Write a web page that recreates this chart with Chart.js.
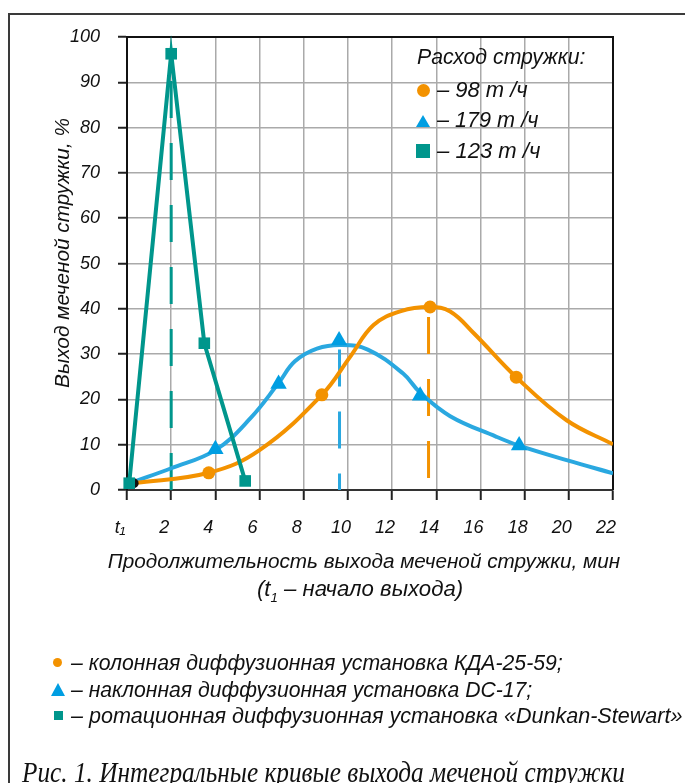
<!DOCTYPE html>
<html lang="ru">
<head>
<meta charset="utf-8">
<script src="https://cdn.jsdelivr.net/npm/chart.js@4/dist/chart.umd.min.js"></script>
<style>
  body { margin: 0; background: #fff; }
  #page { position: relative; width: 685px; height: 783px; overflow: hidden; background: #fff; }
  #frame { position: absolute; left: 8px; top: 13px; width: 700px; height: 800px;
           border-left: 2px solid #3a3a3a; border-top: 2px solid #3a3a3a; }
  #chart { position: absolute; left: 0; top: 0; }
  .t { position: absolute; white-space: nowrap; font-family: 'Liberation Sans', Arial, sans-serif;
       font-style: italic; color: #111; line-height: 1; }
  .mark { position: absolute; }
</style>
</head>
<body>
<div id="page">
  <div id="frame"></div>
  <canvas id="chart" width="685" height="783"></canvas>

  <!-- axis titles -->
  <div class="t" data-w="270" style="left:62px; top:253px; font-size:21px; transform:translate(-50%,-50%) rotate(-90deg);">Выход меченой стружки, %</div>
  <div class="t" data-w="512" style="left:364px; top:561px; font-size:21px; transform:translate(-50%,-50%);">Продолжительность выхода меченой стружки, мин</div>
  <div class="t" data-w="206" style="left:360px; top:591px; font-size:21px; transform:translate(-50%,-50%);">(t<sub style="font-size:0.6em;">1</sub> – начало выхода)</div>

  <!-- legend inside the plot -->
  <div class="t" data-w="168" style="left:417px; top:58px; font-size:21px; transform:translateY(-50%);">Расход стружки:</div>
  <div class="mark" style="left:417px; top:84px; width:13px; height:13px; border-radius:50%; background:#F39200;"></div>
  <div class="t" data-w="91" style="left:437px; top:90px; font-size:21px; transform:translateY(-50%);">– 98 т /ч</div>
  <div class="mark" style="left:416px; top:115px; width:0; height:0; border-left:7px solid transparent; border-right:7px solid transparent; border-bottom:12px solid #009EE2;"></div>
  <div class="t" data-w="101" style="left:437px; top:120px; font-size:21px; transform:translateY(-50%);">– 179 т /ч</div>
  <div class="mark" style="left:416px; top:144px; width:14px; height:14px; background:#00968C;"></div>
  <div class="t" data-w="103" style="left:437px; top:151px; font-size:21px; transform:translateY(-50%);">– 123 т /ч</div>

  <!-- legend under the plot -->
  <div class="mark" style="left:53px; top:658px; width:9px; height:9px; border-radius:50%; background:#F39200;"></div>
  <div class="t" data-w="492" style="left:71px; top:663px; font-size:21px; transform:translateY(-50%);">– колонная диффузионная установка КДА-25-59;</div>
  <div class="mark" style="left:51px; top:683px; width:0; height:0; border-left:7px solid transparent; border-right:7px solid transparent; border-bottom:13px solid #009EE2;"></div>
  <div class="t" data-w="462" style="left:71px; top:690px; font-size:21px; transform:translateY(-50%);">– наклонная диффузионная установка DC-17;</div>
  <div class="mark" style="left:54px; top:711px; width:9px; height:9px; background:#00968C;"></div>
  <div class="t" data-w="612" style="left:71px; top:716px; font-size:21px; transform:translateY(-50%);">– ротационная диффузионная установка «Dunkan-Stewart»</div>

  <!-- figure caption -->
  <div class="t" id="caption" style="left:22px; top:757px; font-family:'Liberation Serif','Times New Roman',serif; font-size:30px; transform-origin:0 0;">Рис. 1. Интегральные кривые выхода меченой стружки</div>
</div>

<script>
// 98 t/h — column unit KDA-25-59 (points along the smooth curve)
const orangeX = [0.3, 3.7, 6.0, 8.82, 10.1, 11.16, 12.4, 13.72, 14.63, 15.7, 17.62, 19.9, 22.0];
const orangeY = [1.5, 3.8, 8.8, 21.0, 29.4, 36.4, 39.5, 40.4, 39.4, 34.6, 24.9, 15.4, 10.1];
const orangeMarkX = [3.7, 8.82, 13.72, 17.62];
const orangeMarkY = [3.8, 21.0, 40.4, 24.9];

// 179 t/h — inclined unit DC-17
const blueX = [0.3, 2.0, 4.0, 5.58, 6.86, 7.6, 8.6, 9.7, 10.9, 12.5, 13.27, 14.63, 16.7, 17.75, 19.9, 22.0];
const blueY = [1.8, 4.8, 8.8, 15.8, 23.6, 28.4, 31.2, 32.0, 31.0, 25.7, 21.5, 16.3, 11.8, 9.8, 6.6, 3.7];
const blueMarkX = [4.0, 6.86, 9.6, 13.27, 17.75];
const blueMarkY = [9.0, 23.4, 33.0, 20.8, 9.8];

// 123 t/h — rotary unit «Dunkan-Stewart» (broken line)
const tealX = [0.1, 2.0, 3.5, 5.35];
const tealY = [1.5, 96.3, 32.4, 2.0];

// start of output
const startX = [0.3];
const startY = [1.5];

// vertical dashed lines at the maxima: x, first and last end
const dropX = [2.0, 9.62, 13.65];
const dropFrom = [0, 31.0, 38.2];
const dropTo = [96.3, 0, 2.6];

const xMin = 0, xMax = 22, xStep = 2;
const yMin = 0, yMax = 100, yStep = 10;

const ORANGE = '#F39200';
const BLUE_LINE = '#2AA8E0';
const BLUE = '#009EE2';
const TEAL = '#00968C';

const pts = (xs, ys) => xs.map((x, i) => ({ x, y: ys[i] }));

const dropColors = [TEAL, BLUE_LINE, ORANGE];
const dropSets = dropX.map((x, i) => ({
  data: [{ x, y: dropFrom[i] }, { x, y: dropTo[i] }],
  borderColor: dropColors[i],
  borderWidth: 3,
  borderDash: [37, 25],
  borderCapStyle: 'butt',
  pointRadius: 0,
  order: 20
}));

// plot box: top and right edges in black
const plotBox = {
  id: 'plotBox',
  beforeDatasetsDraw(chart) {
    const { ctx, chartArea: a } = chart;
    ctx.save();
    ctx.strokeStyle = '#111';
    ctx.lineWidth = 2;
    ctx.beginPath();
    ctx.moveTo(a.left, a.top);
    ctx.lineTo(a.right, a.top);
    ctx.lineTo(a.right, a.bottom);
    ctx.stroke();
    ctx.restore();
  }
};

const tickFont = { family: "'Liberation Sans', Arial, sans-serif", style: 'italic', size: 18 };

new Chart(document.getElementById('chart').getContext('2d'), {
  type: 'line',
  data: {
    datasets: [
      { data: pts(tealX, tealY), borderColor: TEAL, backgroundColor: TEAL, borderWidth: 4,
        tension: 0, pointStyle: 'rect', pointRadius: 8.2, pointBorderWidth: 0, clip: false, order: 1 },
      { data: pts(startX, startY), showLine: false, pointStyle: 'circle', pointRadius: 5,
        backgroundColor: '#111', pointBorderWidth: 0, clip: false, order: 2 },
      { data: pts(blueMarkX, blueMarkY), showLine: false, pointStyle: 'triangle', pointRadius: 9.5,
        backgroundColor: BLUE, pointBorderWidth: 0, clip: false, order: 3 },
      { data: pts(orangeMarkX, orangeMarkY), showLine: false, pointStyle: 'circle', pointRadius: 6.5,
        backgroundColor: ORANGE, pointBorderWidth: 0, clip: false, order: 4 },
      { data: pts(orangeX, orangeY), borderColor: ORANGE, borderWidth: 4, pointRadius: 0,
        tension: 0.4, order: 5 },
      { data: pts(blueX, blueY), borderColor: BLUE_LINE, borderWidth: 4, pointRadius: 0,
        tension: 0.4, order: 6 },
      ...dropSets
    ]
  },
  options: {
    responsive: false,
    animation: false,
    devicePixelRatio: 1,
    layout: { padding: { left: 0, top: 37, right: 72, bottom: 233 } },
    plugins: { legend: { display: false }, tooltip: { enabled: false } },
    scales: {
      x: {
        type: 'linear', min: xMin, max: xMax,
        afterFit: s => { s.height = 60; },
        ticks: { stepSize: xStep, font: tickFont, color: '#111', padding: 17, labelOffset: -7,
                 callback: v => v === 0 ? 't₁' : v },
        grid: { color: '#aaa', lineWidth: 1.5, tickLength: 10, tickColor: '#222', tickWidth: 2 },
        border: { color: '#333', width: 2 }
      },
      y: {
        type: 'linear', min: yMin, max: yMax,
        afterFit: s => { s.width = 127; },
        ticks: { stepSize: yStep, font: tickFont, color: '#111', padding: 18 },
        grid: { color: '#aaa', lineWidth: 1.5, tickLength: 9, tickColor: '#222', tickWidth: 2 },
        border: { color: '#111', width: 2 }
      }
    }
  },
  plugins: [plotBox]
});

// size the text blocks to their set widths
document.querySelectorAll('[data-w]').forEach(el => {
  const size = parseFloat(el.style.fontSize);
  el.style.fontSize = (size * Number(el.dataset.w) / el.offsetWidth).toFixed(2) + 'px';
});
const cap = document.getElementById('caption');
cap.style.transform = 'scaleX(' + (603 / cap.offsetWidth).toFixed(3) + ')';
</script>
</body>
</html>
